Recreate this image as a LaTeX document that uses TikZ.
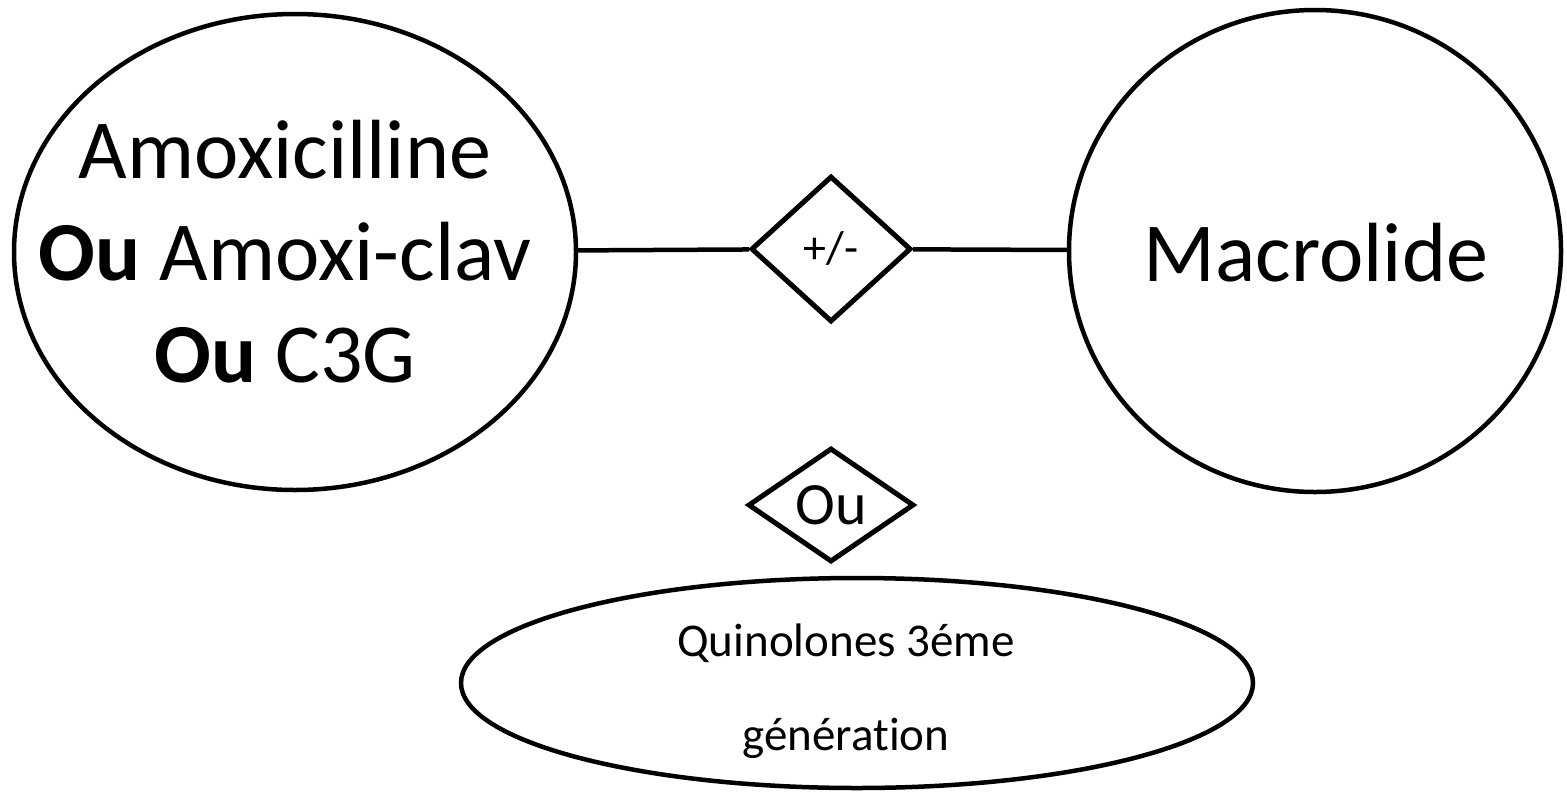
\documentclass[tikz,border=0pt]{standalone}
\usepackage{fontspec}
\setmainfont{Carlito}[Ligatures=CommonOff]
\usetikzlibrary{shapes.geometric}
\begin{document}
\begin{tikzpicture}[x=1pt,y=-1pt,line width=4.5pt,
            drug node/.style={draw,ellipse,inner sep=0pt},
            choice node/.style={draw,diamond,inner sep=0pt,line width=5pt},
            big text/.style={font=\fontsize{84}{102}\selectfont,align=center}]

        \useasboundingbox (0,0) rectangle (1567,801);

        % Define vertices
        \node[drug node,minimum width=562pt,minimum height=476pt] (amox) at (295,252) {};
        \node[drug node,minimum width=492pt,minimum height=482pt] (macro) at (1315,251) {};
        \node[choice node,minimum width=160pt,minimum height=146pt,
              font=\fontsize{46}{46}\selectfont] (pm) at (831,249) {+/-};
        \node[choice node,minimum width=166pt,minimum height=114pt,
              font=\fontsize{60}{60}\selectfont] (ou) at (831,505) {Ou};
        \node[drug node,minimum width=792pt,minimum height=210pt] (quino) at (857,683) {};

        % Texts
        \node[big text] (amoxtxt) at (285,252)
            {Amoxicilline\\\textbf{Ou} Amoxi-clav\\\textbf{Ou} C3G};
        \node[big text] (macrotxt) at (1316,253) {Macrolide};
        \node[font=\fontsize{47}{94}\selectfont,align=center] (quinotxt) at (846,691)
            {Quinolones 3éme\\génération};

        % Draw edges
        \path (amox) edge (pm)
              (pm) edge (macro);

\end{tikzpicture}
\end{document}
